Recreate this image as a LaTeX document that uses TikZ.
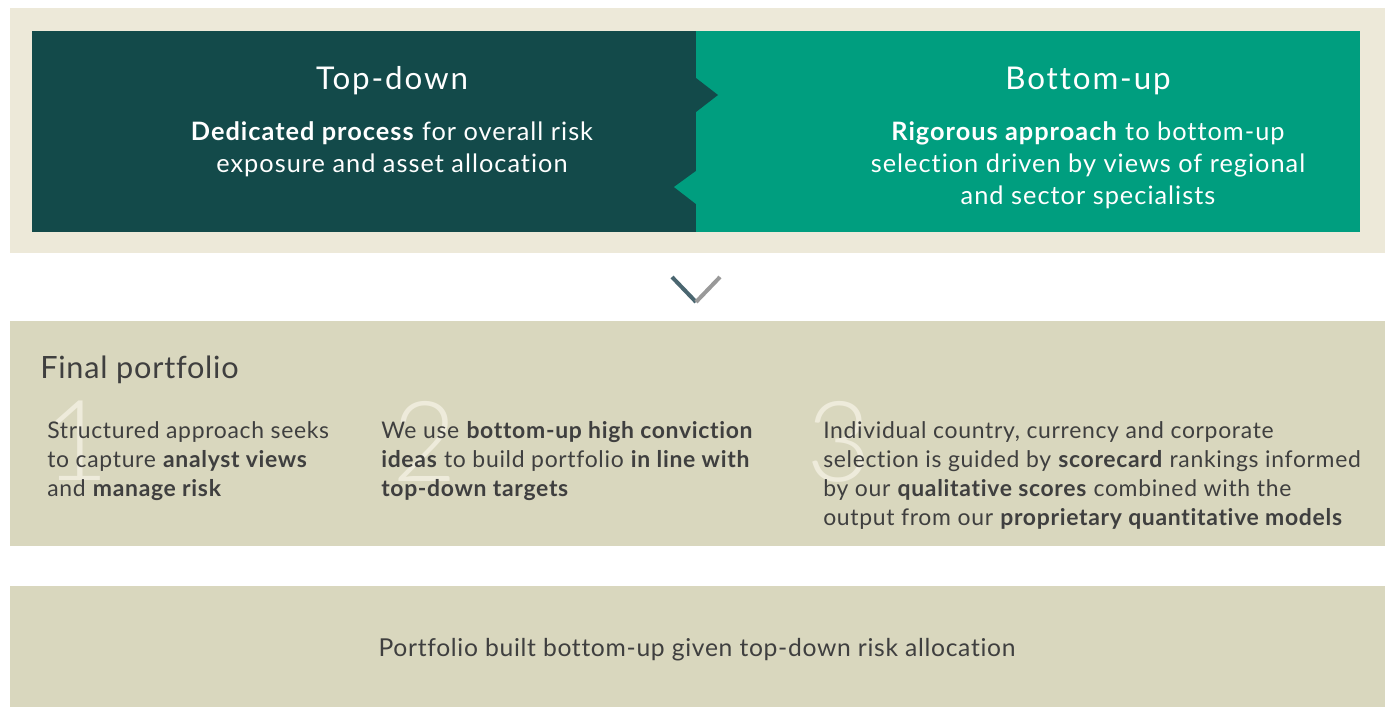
\documentclass[tikz,border=0pt]{standalone}
\usepackage{fontspec}
\setmainfont{Lato}[Ligatures=NoCommon]
\newfontfamily\bodyf{Lato}[LetterSpace=4,Ligatures=NoCommon]
\newfontfamily\colf{Lato}[LetterSpace=3.0,Ligatures=NoCommon]
\newfontfamily\botf{Lato}[LetterSpace=2.8,Ligatures=NoCommon]
\newfontfamily\fpf{Lato}[LetterSpace=2.5,Ligatures=NoCommon]
\newfontfamily\titlef{Lato}[LetterSpace=6,Ligatures=NoCommon]
\newfontfamily\thinf{Lato Light}
\definecolor{cream}{HTML}{EDE9D9}
\definecolor{darkteal}{HTML}{134A4A}
\definecolor{green}{HTML}{009E7F}
\definecolor{khaki}{HTML}{D9D7BE}
\definecolor{numcol}{HTML}{EEEBDB}
\definecolor{txt}{HTML}{3F3F3F}
\definecolor{chevL}{HTML}{4A6670}
\definecolor{chevR}{HTML}{999999}
\tikzset{
  title/.style={text=white, font=\titlef\fontsize{23.5}{28}\selectfont, inner sep=0pt},
  topbody/.style={text=white, font=\bodyf\fontsize{19}{24}\selectfont, align=center, inner sep=0pt},
  colbody/.style={text=txt, font=\colf\fontsize{17.2}{21.75}\selectfont, align=left, inner sep=0pt, anchor=north west},
  bignum/.style={text=numcol, font=\thinf\fontsize{84}{84}\selectfont, inner sep=0pt, anchor=north west},
}
\begin{document}
\begin{tikzpicture}[x=0.75pt,y=-0.75pt]
\useasboundingbox (0,0) rectangle (1388,707);
\fill[white] (0,0) rectangle (1388,707);
% top panel
\fill[cream] (10,8) rectangle (1385,253);
\fill[darkteal] (32,31) rectangle (696,232);
\fill[green] (696,31) rectangle (1360,232);
\fill[darkteal] (696,78) -- (718,95) -- (696,112) -- cycle;
\fill[green] (696,171) -- (674,187) -- (696,204) -- cycle;
\node[title] (td) at (392,81) {Top-down};
\node[topbody] (tdb) at (392,149) {\textbf{Dedicated process} for overall risk\\exposure and asset allocation};
\node[title] (bu) at (1088,81) {Bottom-up};
\node[topbody] (bub) at (1088,165) {\textbf{Rigorous approach} to bottom-up\\selection driven by views of regional\\and sector specialists};
% chevron
\coordinate (cl) at (672,277);
\coordinate (cb) at (696,302);
\coordinate (cr) at (720,277);
\draw[chevL, line width=3pt] (cl) -- (cb);
\draw[chevR, line width=3pt] (cb) -- (cr);
% final portfolio panel
\fill[khaki] (10,321) rectangle (1385,546);
\node[text=txt, font=\fpf\fontsize{23}{27}\selectfont, anchor=west, inner sep=0pt] (fp) at (40,370) {Final portfolio};
\node[bignum] (n1) at (44,401) {1};
\node[bignum] (n2) at (392,401) {2};
\node[bignum] (n3) at (806,401) {3};
\node[colbody] (c1) at (47,421) {Structured approach seeks\\to capture \textbf{analyst views}\\and \textbf{manage risk}};
\node[colbody] (c2) at (381,421) {We use \textbf{bottom-up high conviction}\\\textbf{ideas} to build portfolio \textbf{in line with}\\\textbf{top-down targets}};
\node[colbody] (c3) at (823,421) {Individual country, currency and corporate\\selection is guided by \textbf{scorecard} rankings informed\\by our \textbf{qualitative scores} combined with the\\output from our \textbf{proprietary quantitative models}};
% bottom panel
\fill[khaki] (10,586) rectangle (1385,707);
\node[text=txt, font=\botf\fontsize{18.5}{24}\selectfont, inner sep=0pt] (bt) at (697,650) {Portfolio built bottom-up given top-down risk allocation};
\end{tikzpicture}
\end{document}
